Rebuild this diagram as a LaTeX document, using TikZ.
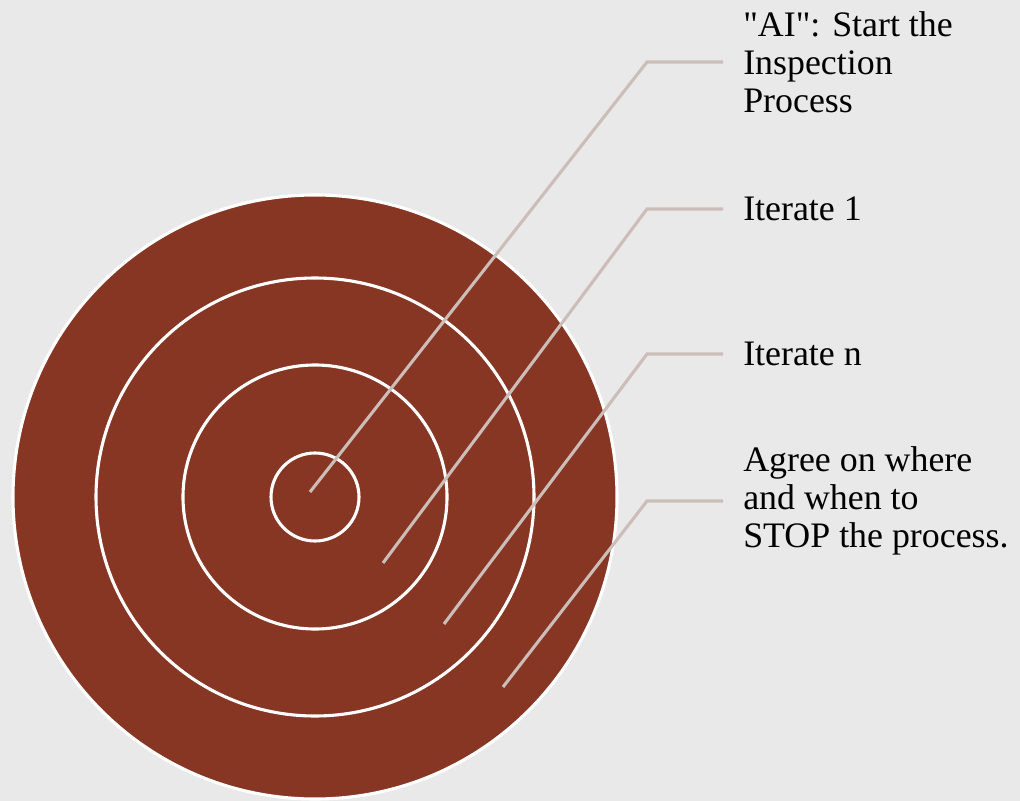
\documentclass[tikz,border=0pt]{standalone}
\usepackage{fontspec}
\newfontfamily\labelfont{Liberation Serif}
\usepackage{xcolor}
\usetikzlibrary{positioning}

\definecolor{paper}{RGB}{233,233,233}
\definecolor{rust}{RGB}{135,54,36}
\definecolor{leader}{RGB}{204,189,184}

\tikzset{
    ring/.style={draw=white, line width=2.2pt},
    leaderline/.style={draw=leader, line width=2.2pt},
    ringlabel/.style={font=\labelfont\fontsize{25.5}{27}\selectfont, align=left, inner sep=0pt}
}

\begin{document}
\begin{tikzpicture}[x=0.025cm, y=-0.025cm]
    % Background
    \fill [paper] (0,0) rectangle (1020,801);
    \useasboundingbox (0,0) rectangle (1020,801);

    % Draw the target
    \coordinate (centre) at (315,497);
    \draw [ring, fill=rust] (centre) circle (302);
    \foreach \r in {219, 132, 44} {
        \draw [ring] (centre) circle (\r);
    }

    % Leader lines and labels (tip x/tip y/label y/text)
    \foreach \n/\tx/\ty/\by/\txt in {A/310/492/62/{"AI": Start the\\Inspection\\Process},
                                     B/383/563/209/{Iterate 1},
                                     C/444/624/354/{Iterate n},
                                     D/503/687/501/{Agree on where\\and when to\\STOP the process.}} {
        \coordinate (tip\n) at (\tx,\ty);
        \coordinate (bend\n) at (647,\by);
        \coordinate (end\n) at (723,\by);
        \node [ringlabel, right=0.5cm of end\n] (lbl\n) {\txt};
        \draw [leaderline] (tip\n) -- (bend\n) -- (end\n);
    }
\end{tikzpicture}
\end{document}
